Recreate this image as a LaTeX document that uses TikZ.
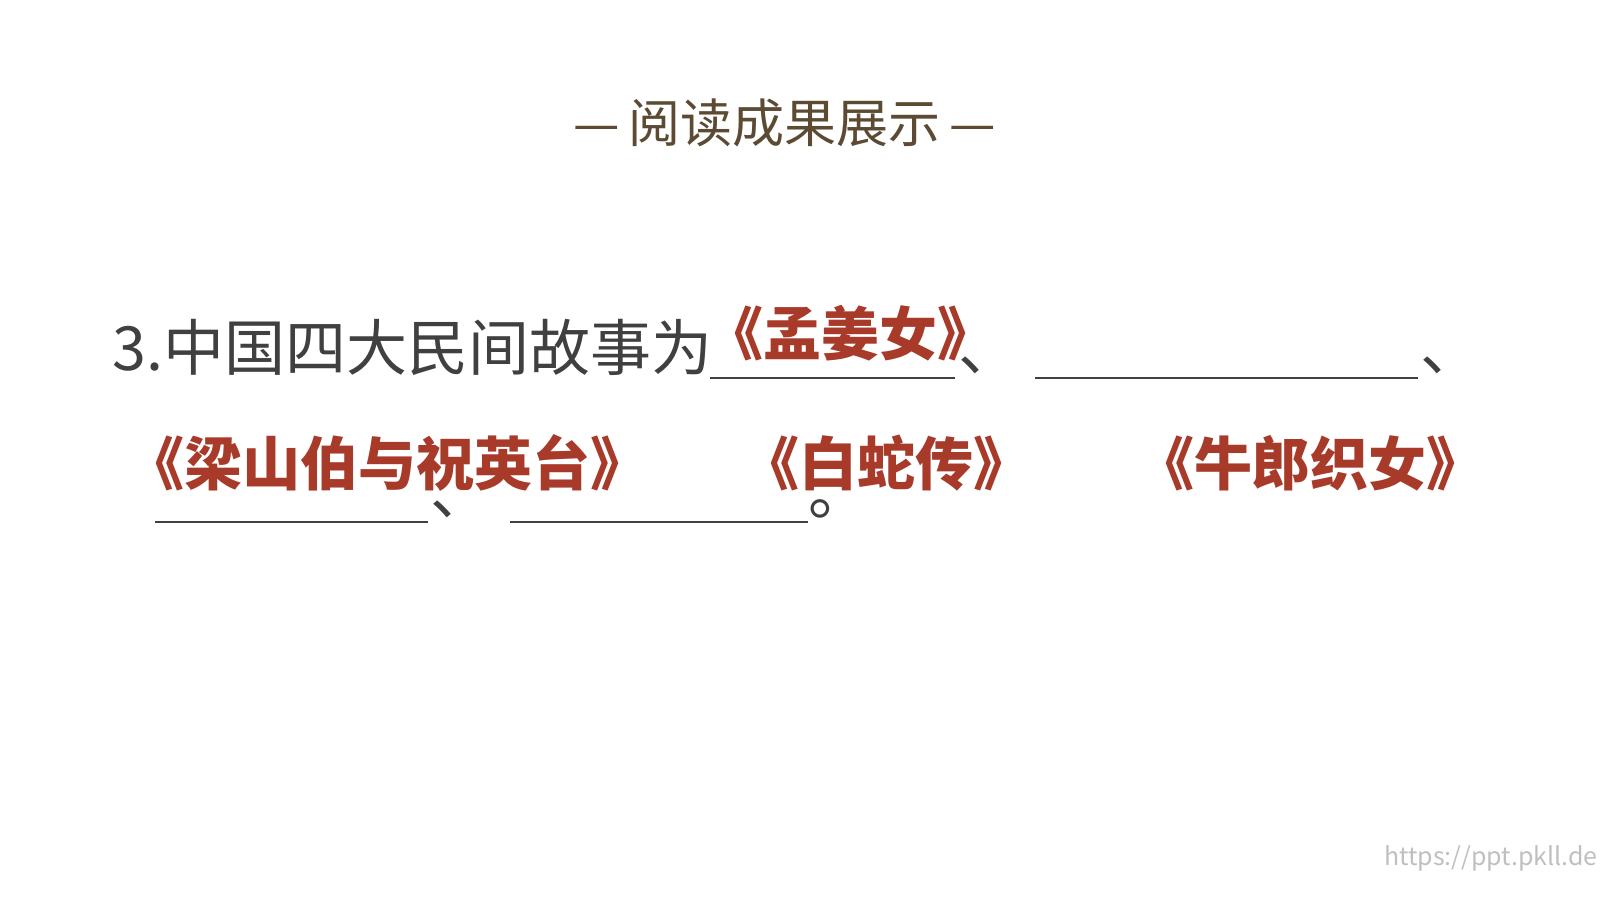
\documentclass[tikz,border=0pt]{standalone}
\usepackage{fontspec}
\setmainfont{Noto Sans CJK SC}
\newfontfamily\cjk{Noto Sans CJK SC}
\begin{document}
\begin{tikzpicture}[x=1pt,y=-1pt,
  gray/.style={text=black!75,font=\fontsize{61}{64}\selectfont,inner sep=0,anchor=base west},
  ans/.style={text=ansred,font=\fontsize{58}{62}\selectfont\bfseries,inner sep=0},
  blank/.style={draw=black!75,line width=2pt}]
\definecolor{ansred}{HTML}{A83A2A}
\definecolor{titlec}{HTML}{5C4A32}
\useasboundingbox (0,0) rectangle (1600,900);
\node[text=titlec,font=\fontsize{52}{56}\selectfont,inner sep=0] (title) at (785,123) {—\,阅读成果展示\,—};
\node[gray] (q) at (112,370) {3.中国四大民间故事为};
\coordinate (b1s) at (710,378); \coordinate (b1e) at (955,378);
\draw[blank] (b1s) -- (b1e);
\node[gray] (c1) at (958,370) {、};
\coordinate (b2s) at (1035,378); \coordinate (b2e) at (1418,378);
\draw[blank] (b2s) -- (b2e);
\node[gray] (c2) at (1420,370) {、};
\coordinate (b3s) at (155,522); \coordinate (b3e) at (428,522);
\draw[blank] (b3s) -- (b3e);
\node[gray] (c3) at (430,514) {、};
\coordinate (b4s) at (510,522); \coordinate (b4e) at (808,522);
\draw[blank] (b4s) -- (b4e);
\node[gray] (c4) at (808,514) {。};
\node[ans] (a1) at (850,333) {《孟姜女》};
\node[ans] (a2) at (387,463) {《梁山伯与祝英台》};
\node[ans] (a3) at (886,463) {《白蛇传》};
\node[ans] (a4) at (1310,463) {《牛郎织女》};
\node[text=black!25,font=\fontsize{25}{27}\selectfont,inner sep=0,anchor=east] (wm) at (1598,858) {https://ppt.pkll.de};
\end{tikzpicture}
\end{document}
